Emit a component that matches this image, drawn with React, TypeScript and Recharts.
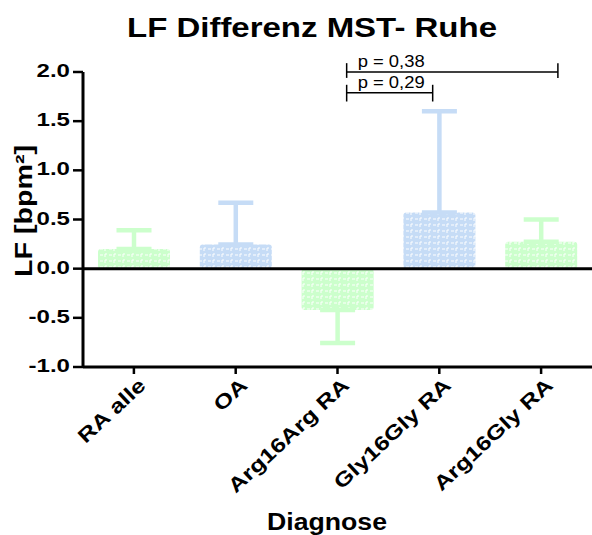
import { BarChart, Bar, XAxis, YAxis, ErrorBar, ReferenceLine } from "recharts"

const categories = ["RA alle", "OA", "Arg16Arg RA", "Gly16Gly RA", "Arg16Gly RA"]
const means = [0.2, 0.245, -0.42, 0.57, 0.275]
const sem = [0.19, 0.425, 0.335, 1.03, 0.225]
const groups = ["green", "blue", "green", "blue", "green"]
const yTicks = [-1, -0.5, 0, 0.5, 1, 1.5, 2]

const GREEN = "#ccffcc"
const BLUE = "#c6dcf6"
const FONT = "'Liberation Sans', Arial, sans-serif"

// one row per category, value goes to the series of its colour
const data = categories.map((name, i) => {
  const err = means[i] >= 0 ? [0, sem[i]] : [sem[i], 0]
  const isGreen = groups[i] === "green"
  return {
    x: i,
    name,
    green: isGreen ? means[i] : undefined,
    blue: isGreen ? undefined : means[i],
    errGreen: isGreen ? err : undefined,
    errBlue: isGreen ? undefined : err,
  }
})

const XTick = ({ x, y, payload }: any) => (
  <text
    transform={`translate(${x + 13},${y + 11}) rotate(-43) scale(1.25,1)`}
    textAnchor="end"
    fontFamily={FONT}
    fontWeight="bold"
    fontSize={20}
    fill="#000"
  >
    {categories[payload.value]}
  </text>
)

const YTick = ({ x, y, payload }: any) => (
  <text
    transform={`translate(${x - 1},${y + 5}) scale(1.3,1)`}
    textAnchor="end"
    fontFamily={FONT}
    fontWeight="bold"
    fontSize={18.5}
    fill="#000"
  >
    {payload.value.toFixed(1)}
  </text>
)

const pLabel = (text: string) => (props: any) => {
  const vb = props.viewBox || {}
  return (
    <text
      x={vb.x + 11}
      y={vb.y - 5}
      fontFamily={FONT}
      fontSize={16}
      textLength={67}
      lengthAdjust="spacingAndGlyphs"
      fill="#000"
    >
      {text}
    </text>
  )
}

const bracket = { stroke: "#000", strokeWidth: 1.5, ifOverflow: "visible" as const, xAxisId: "g" }

export default function App() {
  return (
    <div style={{ position: "absolute", left: 0, top: 0, background: "#fff" }}>
      <BarChart
        width={592}
        height={535}
        data={data}
        margin={{ top: 72, right: 0, left: 0, bottom: 0 }}
      >
        <defs>
          <pattern id="patGreen" width="9" height="6" patternUnits="userSpaceOnUse">
            <rect width="9" height="6" fill={GREEN} />
            <path d="M1 3h3M6 5V2h2" stroke="#fff" strokeWidth="1" fill="none" />
          </pattern>
          <pattern id="patBlue" width="9" height="6" patternUnits="userSpaceOnUse">
            <rect width="9" height="6" fill={BLUE} />
            <path d="M1 3h3M6 5V2h2" stroke="#fff" strokeWidth="1" fill="none" />
          </pattern>
        </defs>

        <text
          x={312}
          y={37}
          textAnchor="middle"
          fontFamily={FONT}
          fontWeight="bold"
          fontSize={28}
          textLength={370}
          lengthAdjust="spacingAndGlyphs"
        >
          LF Differenz MST- Ruhe
        </text>
        <text
          transform="translate(32,211) rotate(-90)"
          textAnchor="middle"
          fontFamily={FONT}
          fontWeight="bold"
          fontSize={23}
          textLength={132}
          lengthAdjust="spacingAndGlyphs"
        >
          LF [bpm²]
        </text>
        <text
          x={327}
          y={530}
          textAnchor="middle"
          fontFamily={FONT}
          fontWeight="bold"
          fontSize={23}
          textLength={120}
          lengthAdjust="spacingAndGlyphs"
        >
          Diagnose
        </text>

        <XAxis
          xAxisId="g"
          dataKey="x"
          type="number"
          domain={[-0.5, 4.5]}
          ticks={[0, 1, 2, 3, 4]}
          interval={0}
          height={168}
          tick={<XTick />}
          tickSize={7}
          axisLine={{ stroke: "#000", strokeWidth: 3 }}
          tickLine={{ stroke: "#000", strokeWidth: 2.5 }}
        />
        <XAxis xAxisId="b" dataKey="x" type="number" domain={[-0.5, 4.5]} height={0} hide />
        <YAxis
          domain={[-1, 2]}
          ticks={yTicks}
          interval={0}
          width={83}
          tick={<YTick />}
          tickSize={10}
          axisLine={{ stroke: "#000", strokeWidth: 3 }}
          tickLine={{ stroke: "#000", strokeWidth: 2.5 }}
        />

        <Bar
          xAxisId="g"
          dataKey="green"
          barSize={72}
          fill="url(#patGreen)"
          radius={3}
          isAnimationActive={false}
        >
          <ErrorBar dataKey="errGreen" direction="y" width={17.5} stroke={GREEN} strokeWidth={4.5} />
        </Bar>
        <Bar
          xAxisId="b"
          dataKey="blue"
          barSize={72}
          fill="url(#patBlue)"
          radius={3}
          isAnimationActive={false}
        >
          <ErrorBar dataKey="errBlue" direction="y" width={17.5} stroke={BLUE} strokeWidth={4.5} />
        </Bar>

        <ReferenceLine xAxisId="g" y={0} stroke="#000" strokeWidth={3} />

        <ReferenceLine {...bracket} segment={[{ x: 2.09, y: 2 }, { x: 4.165, y: 2 }]} label={pLabel("p = 0,38")} />
        <ReferenceLine {...bracket} segment={[{ x: 2.09, y: 2.09 }, { x: 2.09, y: 1.94 }]} />
        <ReferenceLine {...bracket} segment={[{ x: 4.165, y: 2.09 }, { x: 4.165, y: 1.94 }]} />
        <ReferenceLine {...bracket} segment={[{ x: 2.09, y: 1.79 }, { x: 2.935, y: 1.79 }]} label={pLabel("p = 0,29")} />
        <ReferenceLine {...bracket} segment={[{ x: 2.09, y: 1.87 }, { x: 2.09, y: 1.7 }]} />
        <ReferenceLine {...bracket} segment={[{ x: 2.935, y: 1.87 }, { x: 2.935, y: 1.7 }]} />
      </BarChart>
    </div>
  )
}
